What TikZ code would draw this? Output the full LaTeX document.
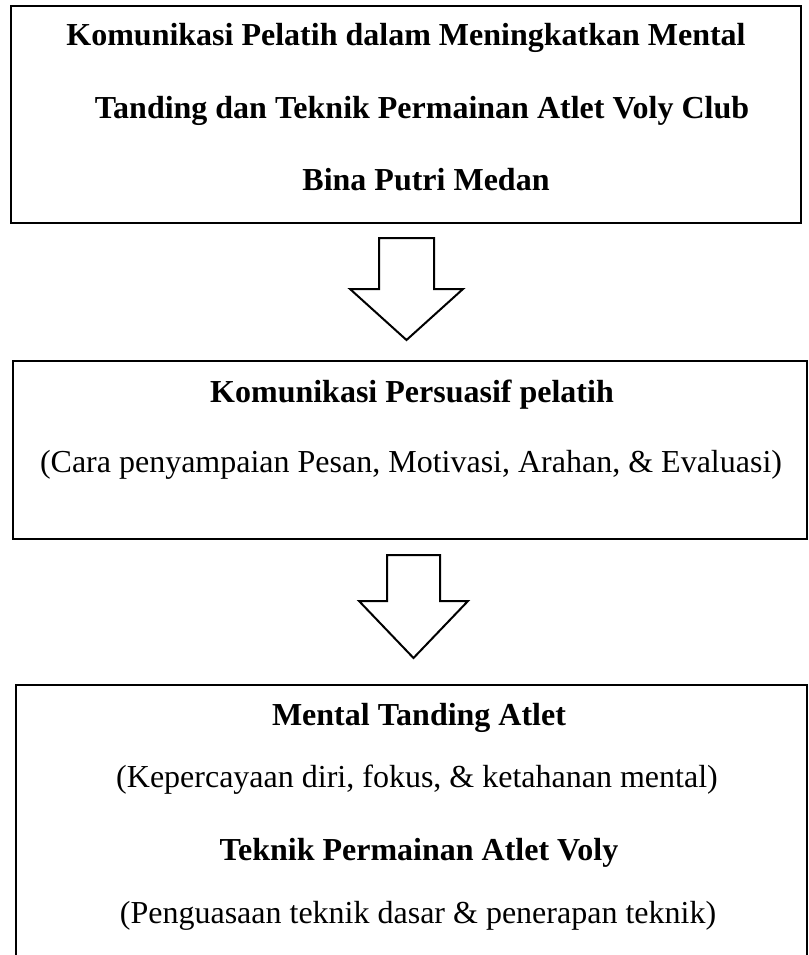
\documentclass[tikz,border=0pt]{standalone}
\usepackage{fontspec}
\setmainfont{Liberation Serif}

\tikzset{
  frame/.style={draw, line width=2pt, rectangle, inner sep=0pt},
  headline/.style={font=\fontsize{32}{38}\selectfont\bfseries, anchor=base, inner sep=0pt},
  bodyline/.style={font=\fontsize{32}{38}\selectfont, anchor=base, inner sep=0pt},
  blockarrow/.style={draw, line width=2pt, line join=miter, fill=white},
}

\begin{document}
\begin{tikzpicture}[x=1pt, y=-1pt]
  \useasboundingbox (0,0) rectangle (808,955);

  % boxes
  \node[frame, minimum width=790pt, minimum height=217pt] (box1) at (406,114.5) {};
  \node[frame, minimum width=794pt, minimum height=178pt] (box2) at (410,450) {};
  \node[frame, minimum width=791pt, minimum height=330pt] (box3) at (411.5,850) {};

  % texts
  \node[headline] (t1a) at (406,46) {Komunikasi Pelatih dalam Meningkatkan Mental};
  \node[headline] (t1b) at (422,118) {Tanding dan Teknik Permainan Atlet Voly Club};
  \node[headline] (t1c) at (426,190) {Bina Putri Medan};

  \node[headline] (t2a) at (412,402) {Komunikasi Persuasif pelatih};
  \node[bodyline] (t2b) at (411,472) {(Cara penyampaian Pesan, Motivasi, Arahan, \& Evaluasi)};

  \node[headline] (t3a) at (419,725) {Mental Tanding Atlet};
  \node[bodyline] (t3b) at (417,787) {(Kepercayaan diri, fokus, \& ketahanan mental)};
  \node[headline] (t3c) at (419,860) {Teknik Permainan Atlet Voly};
  \node[bodyline] (t3d) at (418,923) {(Penguasaan teknik dasar \& penerapan teknik)};

  % block arrows
  \coordinate (a1) at (406.5,238);
  \coordinate (a2) at (413.5,555);
  \draw[blockarrow] (a1) -- ++(27.5,0) -- ++(0,51) -- ++(29,0) -- ++(-56.5,51)
    -- ++(-56.5,-51) -- ++(29,0) -- ++(0,-51) -- cycle;
  \draw[blockarrow] (a2) -- ++(26.5,0) -- ++(0,46) -- ++(28,0) -- ++(-54.5,57)
    -- ++(-54.5,-57) -- ++(28,0) -- ++(0,-46) -- cycle;
\end{tikzpicture}
\end{document}
